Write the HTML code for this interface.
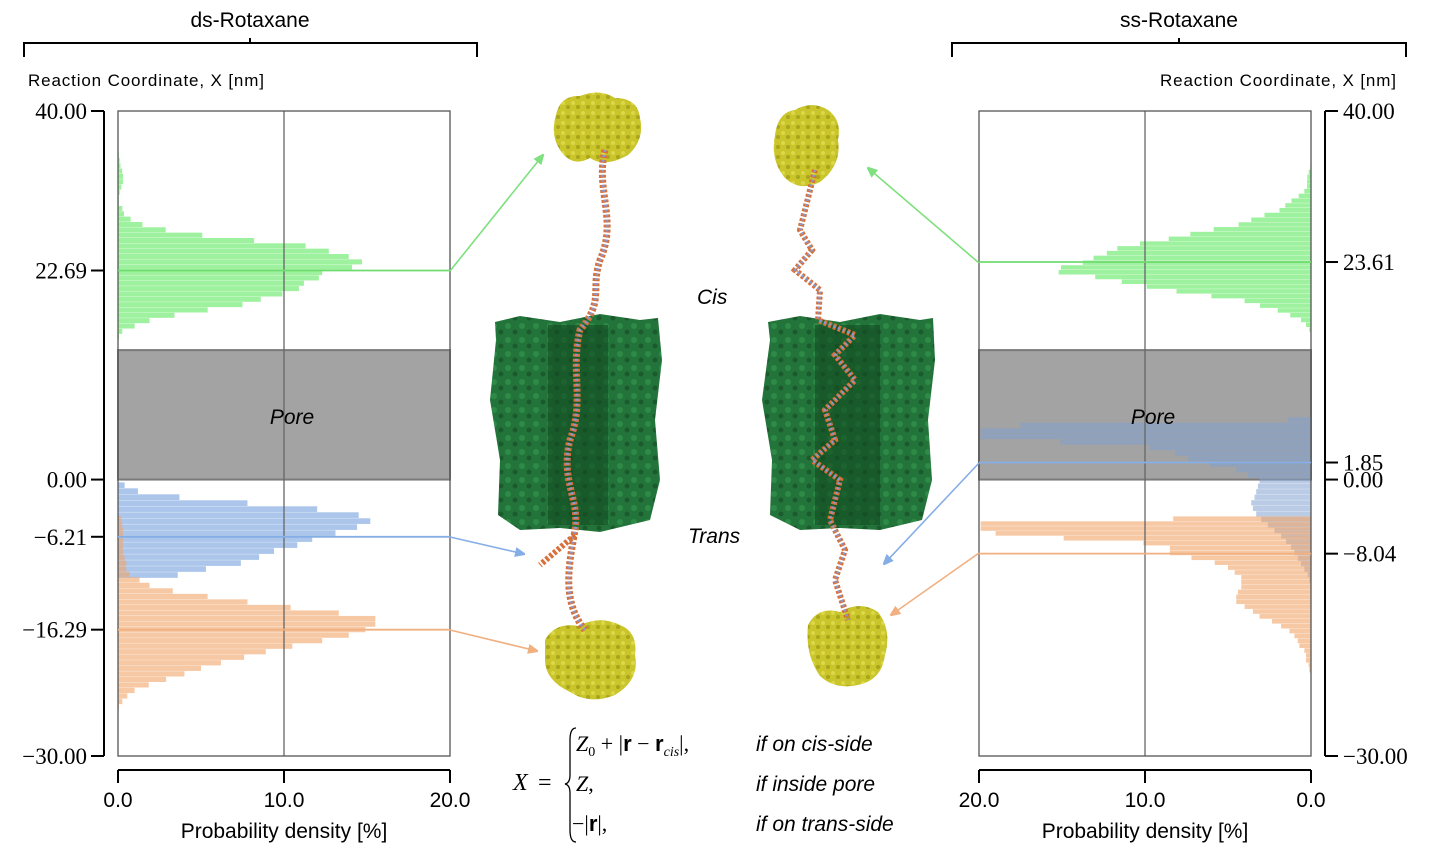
<!DOCTYPE html>
<html><head><meta charset="utf-8">
<style>
html,body{margin:0;padding:0;background:#fff;}
svg{display:block;}
.sans{font-family:"Liberation Sans","DejaVu Sans",sans-serif;}
.serif{font-family:"Liberation Serif","DejaVu Serif",serif;}
</style></head>
<body>
<svg id="fig" width="1430" height="854" viewBox="0 0 1430 854" xmlns="http://www.w3.org/2000/svg">
<defs>
<marker id="ag" markerWidth="10" markerHeight="10" refX="9" refY="5" orient="auto" markerUnits="userSpaceOnUse"><path d="M0,0 L12,5 L0,10 z" fill="#7ee07e"/></marker>
<marker id="ab" markerWidth="10" markerHeight="10" refX="9" refY="5" orient="auto" markerUnits="userSpaceOnUse"><path d="M0,0 L12,5 L0,10 z" fill="#86aee6"/></marker>
<marker id="ao" markerWidth="10" markerHeight="10" refX="9" refY="5" orient="auto" markerUnits="userSpaceOnUse"><path d="M0,0 L12,5 L0,10 z" fill="#f0b080"/></marker>
<pattern id="tex" width="14" height="14" patternUnits="userSpaceOnUse"><rect width="14" height="14" fill="#23743a"/><circle cx="4" cy="4" r="3" fill="#2e8a47"/><circle cx="11" cy="10" r="2.5" fill="#1a5a2c"/></pattern>
<pattern id="ytex" width="10" height="10" patternUnits="userSpaceOnUse"><rect width="10" height="10" fill="#c9c52a"/><circle cx="3" cy="3" r="2" fill="#dcd84a"/><circle cx="8" cy="7" r="2" fill="#a9a51c"/></pattern>
</defs>

<text x="250" y="27" text-anchor="middle" class="sans" font-size="21">ds-Rotaxane</text>
<path d="M24,57 V43 H477 V57 M250,43 V38" fill="none" stroke="#000" stroke-width="2"/>
<text x="1179" y="27" text-anchor="middle" class="sans" font-size="21">ss-Rotaxane</text>
<path d="M952,57 V43 H1406 V57 M1179,43 V38" fill="none" stroke="#000" stroke-width="2"/>
<text x="28" y="86" class="sans" font-size="17" textLength="236">Reaction Coordinate,  X  [nm]</text>
<text x="1160" y="86" class="sans" font-size="17" textLength="236">Reaction Coordinate,  X  [nm]</text>

<g id="left"></g>
<g id="right"></g>

<g>
  <path d="M495,322 L520,316 L560,322 L600,314 L640,320 L658,318 L662,360 L655,420 L660,480 L650,520 L600,532 L560,528 L520,530 L498,515 L500,460 L490,400 L496,340 Z" fill="url(#tex)"/>
  <rect x="548" y="325" width="60" height="200" fill="#134a22" opacity="0.6"/>
  <path d="M556,115 Q560,95 580,96 Q600,88 615,98 Q638,98 640,118 Q645,140 628,155 Q605,168 590,158 Q572,168 560,150 Q550,135 556,115 Z" fill="url(#ytex)"/>
  <path d="M545,640 Q555,622 578,626 Q600,615 620,625 Q638,632 635,655 Q640,680 615,695 Q590,705 570,692 Q545,680 545,660 Z" fill="url(#ytex)"/>
  <path d="M605,150 C595,190 618,220 600,260 C590,290 605,300 580,330 C570,370 585,400 570,440 C560,480 580,500 575,530 C570,560 560,600 585,630" fill="none" stroke="#d8703a" stroke-width="7" stroke-dasharray="3 2"/>
  <path d="M605,150 C595,190 618,220 600,260 C590,290 605,300 580,330 C570,370 585,400 570,440 C560,480 580,500 575,530 C570,560 560,600 585,630" fill="none" stroke="#8898d0" stroke-width="3" stroke-dasharray="2 3"/>
  <path d="M575,535 L540,565" stroke="#d8703a" stroke-width="6" stroke-dasharray="3 2"/>
</g>
<g>
  <path d="M768,322 L800,316 L840,322 L880,314 L920,320 L933,318 L935,360 L928,420 L932,480 L922,520 L880,530 L840,528 L800,530 L770,515 L772,460 L762,400 L770,340 Z" fill="url(#tex)"/>
  <rect x="815" y="325" width="65" height="200" fill="#134a22" opacity="0.6"/>
  <path d="M775,135 Q778,112 795,110 Q812,100 828,110 Q842,120 838,140 Q842,165 820,182 Q800,192 785,178 Q770,160 775,135 Z" fill="url(#ytex)"/>
  <path d="M808,625 Q818,606 840,612 Q860,600 878,612 Q892,630 885,655 Q882,680 858,685 Q835,690 820,676 Q805,655 808,625 Z" fill="url(#ytex)"/>
  <path d="M815,170 L800,230 L812,250 L795,270 L820,290 L818,320 L855,335 L835,355 L855,380 L825,410 L835,440 L812,460 L840,480 L830,520 L845,550 L835,580 L848,620" fill="none" stroke="#d8703a" stroke-width="6" stroke-dasharray="3 2"/>
  <path d="M815,170 L800,230 L812,250 L795,270 L820,290 L818,320 L855,335 L835,355 L855,380 L825,410 L835,440 L812,460 L840,480 L830,520 L845,550 L835,580 L848,620" fill="none" stroke="#8898d0" stroke-width="2.5" stroke-dasharray="2 3"/>
</g>
<text x="697" y="304" class="sans" font-style="italic" font-size="21">Cis</text>
<text x="688" y="543" class="sans" font-style="italic" font-size="21">Trans</text>

<g fill="none" stroke-width="1.6">
  <line x1="450" y1="271" x2="543" y2="155" stroke="#7ee07e" marker-end="url(#ag)"/>
  <line x1="450" y1="537" x2="524" y2="554" stroke="#86aee6" marker-end="url(#ab)"/>
  <line x1="450" y1="630" x2="537" y2="651" stroke="#f0b080" marker-end="url(#ao)"/>
  <line x1="979" y1="263" x2="868" y2="168" stroke="#7ee07e" marker-end="url(#ag)"/>
  <line x1="979" y1="463" x2="884" y2="564" stroke="#86aee6" marker-end="url(#ab)"/>
  <line x1="979" y1="553" x2="891" y2="615" stroke="#f0b080" marker-end="url(#ao)"/>
</g>

<g>
  <text x="513" y="790" class="serif" font-style="italic" font-size="24">X</text>
  <text x="538" y="790" class="serif" font-size="24">=</text>
  <path d="M576,728 Q570,728 570,740 V775 Q570,783 565,784 Q570,785 570,793 V830 Q570,842 576,842" fill="none" stroke="#000" stroke-width="1.3"/>
  <text x="576" y="751" class="serif" font-size="22"><tspan font-style="italic">Z</tspan><tspan font-size="14" dy="5">0</tspan><tspan dy="-5"> + |</tspan><tspan font-weight="bold" class="sans">r</tspan><tspan> − </tspan><tspan font-weight="bold" class="sans">r</tspan><tspan font-style="italic" font-size="14" dy="5">cis</tspan><tspan dy="-5">|,</tspan></text>
  <text x="576" y="791" class="serif" font-size="22"><tspan font-style="italic">Z</tspan>,</text>
  <text x="572" y="831" class="serif" font-size="22">−|<tspan font-weight="bold" class="sans">r</tspan>|,</text>
  <text x="756" y="751" class="sans" font-style="italic" font-size="21">if on cis-side</text>
  <text x="756" y="791" class="sans" font-style="italic" font-size="21">if inside pore</text>
  <text x="756" y="831" class="sans" font-style="italic" font-size="21">if on trans-side</text>
</g>
</svg>

<script>
const yTicksLeft = [40.00, 22.69, 0.00, -6.21, -16.29, -30.00];
const yTicksRight = [40.00, 23.61, 1.85, 0.00, -8.04, -30.00];
const xTicks = [0, 10, 20];
const poreRange = [0, 14.05];
const dsGreenStart = 35.5, dsGreenBin = 0.58;
const dsGreen = [0.05,0.1,0.15,0.25,0.3,0.3,0.2,0.1,0.05,0.05,0.26,0.36,0.76,1.47,2.87,5.08,8.2,11.3,12.7,13.9,14.7,14.1,12.3,12.1,11.2,10.9,9.9,8.6,7.5,5.4,3.4,1.9,1.0,0.26,0.06];
const dsBlueStart = -0.3, dsBlueBin = 0.65;
const dsBlue = [0.4,1.2,3.7,7.8,12.0,14.5,15.2,14.4,13.1,11.7,10.8,9.4,8.5,7.4,5.3,3.6];
const dsOrangeStart = -4.0, dsOrangeBin = 0.6;
const dsOrange = [0.2,0.25,0.3,0.3,0.3,0.3,0.3,0.4,0.5,0.5,0.7,1.3,1.9,3.3,5.4,7.8,10.4,13.3,15.5,15.5,14.9,13.9,12.3,10.5,8.9,7.6,6.2,5.0,4.0,2.9,1.85,1.0,0.56,0.26,0.06];
const dsMarkers = [22.69, -6.21, -16.29];
const ssGreenStart = 34.14, ssGreenBin = 0.518;
const ssGreen = [0.04,0.14,0.22,0.24,0.24,0.4,0.74,1.18,1.55,1.9,2.8,3.6,4.36,5.86,7.27,8.57,10.3,11.67,12.3,13.1,13.75,15.06,15.2,13.0,11.4,9.9,8.1,6.0,4.0,3.07,2.0,1.25,0.6,0.3,0.1];
const ssBlueStart = 6.76, ssBlueBin = 0.6;
const ssBlue = [1.4,17.5,19.9,19.9,15.1,9.7,8.2,7.4,6.1,4.5,3.8,3.1,3.2,3.3,3.4,3.6,3.5,3.3,3.0,2.6,2.2,1.8,1.5,1.2,1.0,0.8,0.6,0.4,0.2,0.1];
const ssOrangeStart = -4.0, ssOrangeBin = 0.53;
const ssOrange = [8.3,19.9,19.9,19.0,14.9,10.1,8.5,8.5,7.2,5.8,5.0,4.6,4.2,4.2,4.2,4.4,4.5,4.5,4.0,3.5,3.1,2.35,1.8,1.3,1.0,0.8,0.7,0.4,0.3,0.3,0.14,0.1];
const ssMarkers = [23.61, 1.85, -8.04];

const Y0 = 111, Y1 = 756, YMAX = 40, YMIN = -30;
function yS(v){ return Y0 + (YMAX - v) * (Y1 - Y0) / (YMAX - YMIN); }
const PW = 332;
function xL(p){ return 118 + p * PW / 20; }
function xR(p){ return 1311 - p * PW / 20; }
const NS = "http://www.w3.org/2000/svg";
function mk(tag, attrs, parent){ const e = document.createElementNS(NS, tag); for (const k in attrs) e.setAttribute(k, attrs[k]); parent.appendChild(e); return e; }

function hist(g, start, bin, vals, xf, fill, op, name){
  const grp = mk('g', {}, g);
  
  
  vals.forEach((v, i) => {
    const top = yS(start - i * bin), bot = yS(start - (i + 1) * bin);
    const a = xf(0), b = xf(v);
    const r = mk('rect', {x: Math.min(a,b), y: top, width: Math.abs(b-a), height: Math.max(0.5, bot - top - 0.3), fill: fill, 'fill-opacity': op}, grp);
    
    
  });
}

function panel(g, side){
  const left = side === 'L';
  const xf = left ? xL : xR;
  const px0 = left ? 118 : 979, px1 = left ? 450 : 1311;
  const pore = mk('rect', {x: px0, y: yS(poreRange[1]), width: PW, height: yS(poreRange[0]) - yS(poreRange[1]), fill: '#a3a3a3', stroke: '#7a7a7a', 'stroke-width': 2}, g);
  
  
  if (left){
    hist(g, dsGreenStart, dsGreenBin, dsGreen, xf, '#86ee86', 0.8, 'cis-histogram');
    hist(g, dsBlueStart, dsBlueBin, dsBlue, xf, '#80a8e0', 0.65, 'pore-histogram');
    hist(g, dsOrangeStart, dsOrangeBin, dsOrange, xf, '#f0a66c', 0.62, 'trans-histogram');
  } else {
    hist(g, ssGreenStart, ssGreenBin, ssGreen, xf, '#86ee86', 0.8, 'cis-histogram');
    hist(g, ssBlueStart, ssBlueBin, ssBlue, xf, '#80a0d0', 0.55, 'pore-histogram');
    hist(g, ssOrangeStart, ssOrangeBin, ssOrange, xf, '#f0a66c', 0.62, 'trans-histogram');
  }
  const gl = mk('line', {x1: xf(10), x2: xf(10), y1: Y0, y2: Y1, stroke: '#666', 'stroke-width': 1.3}, g);
  
  
  const fr = mk('rect', {x: px0, y: Y0, width: PW, height: Y1 - Y0, fill: 'none', stroke: '#555', 'stroke-width': 1.3}, g);
  
  
  const pl = mk('text', {x: (px0+px1)/2 + 8, y: 424, 'text-anchor': 'middle', 'font-size': 21, 'font-style': 'italic', class: 'sans'}, g);
  pl.textContent = 'Pore';
  
  
  const mks = left ? dsMarkers : ssMarkers;
  const mcol = ['#6fdc6f', '#86aee6', '#f0b080'];
  mks.forEach((m, i) => {
    const l = mk('line', {x1: px0, x2: px1, y1: yS(m), y2: yS(m), stroke: mcol[i], 'stroke-width': 1.8}, g);
    
    
  });
  const ax = left ? 104 : 1325;
  const yl = mk('line', {x1: ax, x2: ax, y1: Y0, y2: Y1, stroke: '#000', 'stroke-width': 2}, g);
  
  
  const ticks = left ? yTicksLeft : yTicksRight;
  ticks.forEach(t => {
    const y = yS(t);
    const tk = mk('line', {x1: ax, x2: left ? ax - 13 : ax + 13, y1: y, y2: y, stroke: '#000', 'stroke-width': 2}, g);
    
    
    const lb = mk('text', {x: left ? 87 : 1343, y: y + 8, 'text-anchor': left ? 'end' : 'start', 'font-size': 23, class: 'serif'}, g);
    lb.textContent = (t < 0 ? '\u2212' + Math.abs(t).toFixed(2) : t.toFixed(2));
    
    
  });
  const xl = mk('line', {x1: px0, x2: px1, y1: 770, y2: 770, stroke: '#000', 'stroke-width': 2}, g);
  
  
  xTicks.forEach(t => {
    const x = xf(t);
    const tk = mk('line', {x1: x, x2: x, y1: 770, y2: 783, stroke: '#000', 'stroke-width': 2}, g);
    
    
    const lb = mk('text', {x: x, y: 807, 'text-anchor': 'middle', 'font-size': 21, class: 'sans'}, g);
    lb.textContent = t.toFixed(1);
    
    
  });
  const xt = mk('text', {x: (px0+px1)/2, y: 838, 'text-anchor': 'middle', 'font-size': 21, class: 'sans'}, g);
  xt.textContent = 'Probability density [%]';
  
  
}
panel(document.getElementById('left'), 'L');
panel(document.getElementById('right'), 'R');
</script>
</body></html>
